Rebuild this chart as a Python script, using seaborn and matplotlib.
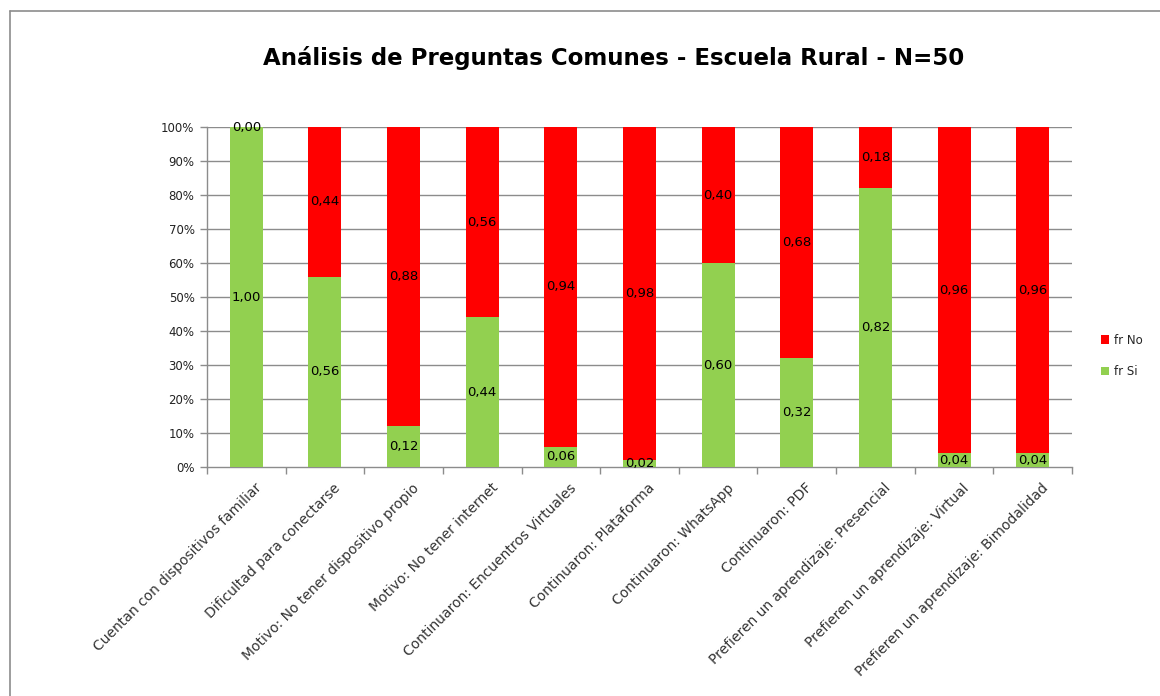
import matplotlib
matplotlib.use("Agg")
import matplotlib.pyplot as plt
import seaborn as sns
import pandas as pd
import numpy as np
from matplotlib.lines import Line2D
from matplotlib.patches import Patch

categories = [
    "Cuentan con dispositivos familiar",
    "Dificultad para conectarse",
    "Motivo: No tener dispositivo propio",
    "Motivo: No tener internet",
    "Continuaron: Encuentros Virtuales",
    "Continuaron: Plataforma",
    "Continuaron: WhatsApp",
    "Continuaron: PDF",
    "Prefieren un aprendizaje: Presencial",
    "Prefieren un aprendizaje: Virtual",
    "Prefieren un aprendizaje: Bimodalidad",
]
fr_si = [1.00, 0.56, 0.12, 0.44, 0.06, 0.02, 0.60, 0.32, 0.82, 0.04, 0.04]
fr_no = [0.00, 0.44, 0.88, 0.56, 0.94, 0.98, 0.40, 0.68, 0.18, 0.96, 0.96]
y_ticks = [0.0, 0.1, 0.2, 0.3, 0.4, 0.5, 0.6, 0.7, 0.8, 0.9, 1.0]
title = "Análisis de Preguntas Comunes - Escuela Rural - N=50"

RED = "#FF0000"
GREEN = "#92D050"
GRID = "#8c8c8c"

sns.set_theme(style="white")
plt.rcParams["font.family"] = ["DejaVu Sans"]

df = pd.DataFrame({"cat": categories, "si": fr_si, "no": fr_no})
df["total"] = df["si"] + df["no"]

fig = plt.figure(figsize=(11.6, 6.96), dpi=100)
ax = fig.add_axes([207 / 1160, 1 - 467 / 696, (1072 - 207) / 1160, (467 - 127) / 696])

sns.barplot(data=df, x="cat", y="total", color=RED, width=0.42, saturation=1,
            linewidth=0, edgecolor="none", ax=ax, zorder=3)
sns.barplot(data=df, x="cat", y="si", color=GREEN, width=0.42, saturation=1,
            linewidth=0, edgecolor="none", ax=ax, zorder=4)

ax.set_xlim(-0.5, len(categories) - 0.5)
ax.set_ylim(0, 1)
ax.set_yticks(y_ticks)
ax.set_yticklabels([f"{int(round(v * 100))}%" for v in y_ticks], fontsize=8.5, color="#222222")
for v in y_ticks[1:]:
    ax.axhline(v, color=GRID, lw=1.0, zorder=1)

ax.set_xlabel("")
ax.set_ylabel("")
ax.set_xticks(range(len(categories)))
ax.set_xticklabels([])
ax.tick_params(axis="x", which="major", length=0)
ax.set_xticks(np.arange(-0.5, len(categories), 1.0), minor=True)
ax.tick_params(axis="x", which="minor", length=5, color=GRID, width=1, direction="out", bottom=True)
ax.tick_params(axis="y", length=5, color=GRID, width=1, direction="out", left=True, pad=4)

for s in ["top", "right"]:
    ax.spines[s].set_visible(False)
for s in ["left", "bottom"]:
    ax.spines[s].set_color(GRID)
    ax.spines[s].set_linewidth(1.0)
ax.spines["left"].set_zorder(5)

def fmt(v):
    return f"{v:.2f}".replace(".", ",")

for i, (s, n) in enumerate(zip(fr_si, fr_no)):
    ax.text(i, s / 2, fmt(s), ha="center", va="center", fontsize=9.5, color="black", zorder=6)
    ax.text(i, s + n / 2, fmt(n), ha="center", va="center", fontsize=9.5, color="black", zorder=6)

# rotated category labels
for i, c in enumerate(categories):
    ax.annotate(c, xy=(i, 0), xycoords=("data", "axes fraction"),
                xytext=(6, -10), textcoords="offset points",
                rotation=45, rotation_mode="anchor", ha="right", va="top",
                fontsize=10, color="#333333")

fig.text(614 / 1160, 1 - 58 / 696, title, ha="center", va="center", fontsize=16.5,
         fontweight="bold", color="black")

handles = [Patch(facecolor=RED, edgecolor="none"), Patch(facecolor=GREEN, edgecolor="none")]
fig.legend(handles, ["fr No", "fr Si"], loc="center left",
           bbox_to_anchor=(1090 / 1160, 1 - 356 / 696), frameon=False,
           fontsize=8.5, handlelength=0.7, handleheight=0.7, handletextpad=0.4,
           labelspacing=1.6)

# chart border (top and left)
fig.add_artist(Line2D([10 / 1160, 1.0], [1 - 11 / 696, 1 - 11 / 696], color="#8c8c8c", lw=1.2,
                      transform=fig.transFigure))
fig.add_artist(Line2D([10 / 1160, 10 / 1160], [0, 1 - 11 / 696], color="#8c8c8c", lw=1.2,
                      transform=fig.transFigure))

fig.savefig("out.png", dpi=100, facecolor="white")
